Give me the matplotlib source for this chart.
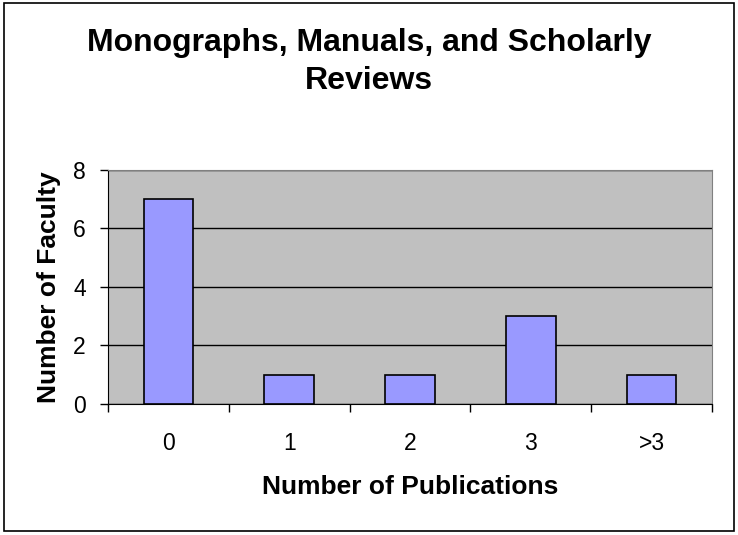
import matplotlib
matplotlib.use("Agg")
import matplotlib.pyplot as plt
from matplotlib.patches import Rectangle

# data
categories = ["0", "1", "2", "3", ">3"]
faculty_counts = [7, 1, 1, 3, 1]

plt.rcParams['font.family'] = ['Liberation Sans', 'DejaVu Sans']

fig = plt.figure(figsize=(7.38, 5.35), dpi=100)

# outer chart border
fig.patches.append(Rectangle((0.006, 0.008), 0.988, 0.986, transform=fig.transFigure,
                             fill=False, edgecolor="black", linewidth=1.2))

ax = fig.add_axes([0.1463, 0.2449, 0.8185, 0.4374])
ax.set_facecolor("#C0C0C0")

x = list(range(len(categories)))
ax.bar(x, faculty_counts, width=0.41, color="#9999FF", edgecolor="black", linewidth=1.2, zorder=3)

ax.set_xlim(-0.5, len(categories) - 0.5)
ax.set_ylim(0, 8)
ax.set_yticks([0, 2, 4, 6, 8])
ax.yaxis.grid(True, color="black", linewidth=1, zorder=1)
ax.set_axisbelow(True)

# category labels at centres, tick marks at boundaries
ax.set_xticks(x)
ax.set_xticklabels(categories, fontsize=16.5)
ax.tick_params(axis="x", which="major", length=0, pad=20)
ax.set_xticks([i - 0.5 for i in range(len(categories) + 1)], minor=True)
ax.tick_params(axis="x", which="minor", length=6, width=1, direction="out")
ax.tick_params(axis="y", labelsize=16.5, length=6, width=1, direction="out", pad=10)

for side in ["top", "right"]:
    ax.spines[side].set_color("#808080")
ax.spines["left"].set_color("black")
ax.spines["bottom"].set_color("black")

ax.set_xlabel("Number of Publications", fontsize=19, fontweight="bold")
ax.xaxis.set_label_coords(0.5, -0.305)
ax.set_ylabel("Number of Faculty", fontsize=19, fontweight="bold")
ax.yaxis.set_label_coords(-0.078, 0.5)

fig.text(0.5, 1 - 28 / 535, "Monographs, Manuals, and Scholarly\nReviews", ha="center", va="top",
         fontsize=23, fontweight="bold", linespacing=1.35)

fig.savefig("out.png", dpi=100)
plt.close(fig)
